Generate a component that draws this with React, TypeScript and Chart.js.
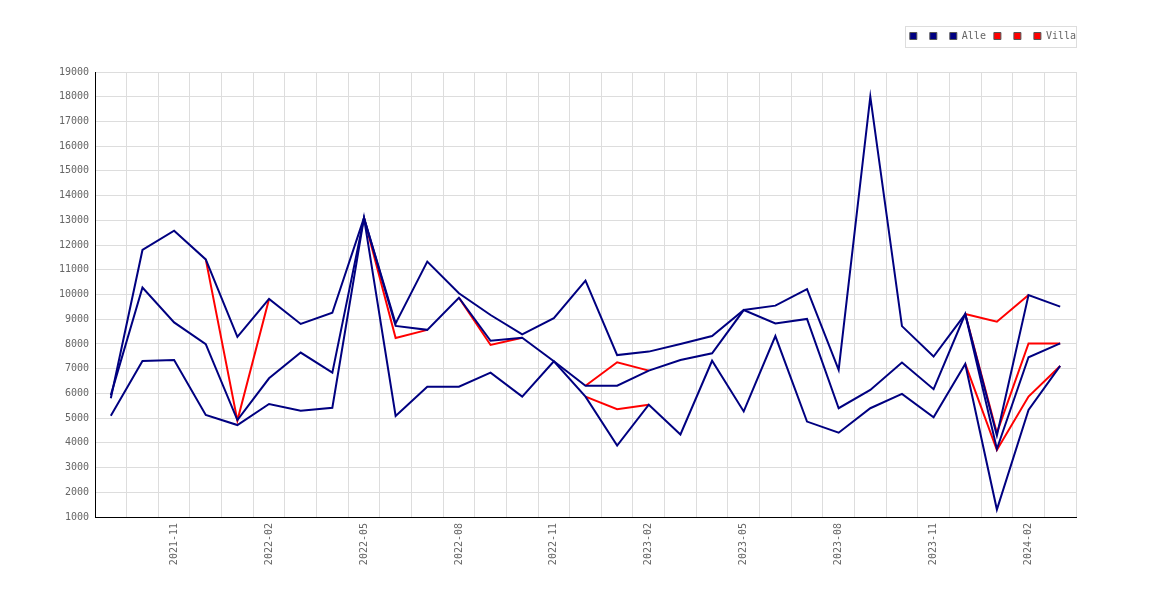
import { useEffect, useRef } from "react";
import { Chart, registerables } from "chart.js";

Chart.register(...registerables);

const months = [
  "2021-09", "2021-10", "2021-11", "2021-12", "2022-01", "2022-02", "2022-03", "2022-04",
  "2022-05", "2022-06", "2022-07", "2022-08", "2022-09", "2022-10", "2022-11", "2022-12",
  "2023-01", "2023-02", "2023-03", "2023-04", "2023-05", "2023-06", "2023-07", "2023-08",
  "2023-09", "2023-10", "2023-11", "2023-12", "2024-01", "2024-02", "2024-03",
];

const alleHigh = [
  5800, 11800, 12580, 11420, 8290, 9820, 8810, 9260, 13100, 8830, 11330, 10050, 9170, 8390, 9040, 10560,
  7550, 7690, 8000, 8320, 9370, 9550, 10220, 6950, 18000, 8720, 7490, 9210, 4300, 9980, 9510,
];
const alleMid = [
  5930, 10280, 8870, 7990, 4920, 6610, 7650, 6840, 13100, 8730, 8570, 9870, 8130, 8250, 7300, 6310,
  6310, 6920, 7350, 7620, 9370, 8830, 9010, 5400, 6140, 7250, 6170, 9210, 3750, 7460, 8020,
];
const alleLow = [
  5100, 7310, 7350, 5130, 4720, 5570, 5300, 5420, 13100, 5090, 6270, 6270, 6840, 5870, 7300, 5870,
  3890, 5540, 4340, 7320, 5270, 8320, 4860, 4410, 5400, 5980, 5030, 7190, 1300, 5330, 7110,
];

const villaHigh = [
  5800, 11800, 12580, 11420, 4900, 9820, 8810, 9260, 13100, 8830, 11330, 10050, 9170, 8390, 9040, 10560,
  7550, 7690, 8000, 8320, 9370, 9550, 10220, 6950, 18000, 8720, 7490, 9210, 8900, 9980, 9510,
];
const villaMid = [
  5930, 10280, 8870, 7990, 4920, 6610, 7650, 6840, 13100, 8240, 8570, 9870, 7960, 8250, 7300, 6310,
  7260, 6920, 7350, 7620, 9370, 8830, 9010, 5400, 6140, 7250, 6170, 9210, 4400, 8020, 8020,
];
const villaLow = [
  5100, 7310, 7350, 5130, 4720, 5570, 5300, 5420, 13100, 5090, 6270, 6270, 6840, 5870, 7300, 5870,
  5360, 5540, 4340, 7320, 5270, 8320, 4860, 4410, 5400, 5980, 5030, 7190, 3710, 5870, 7110,
];

const yTicks = { min: 1000, max: 19000, step: 1000 };

const NAVY = "#000080";
const RED = "#ff0000";
const FONT = { family: "'DejaVu Sans Mono', monospace", size: 10 };

// extra space under the legend, and push it to the plot's right edge
const legendLayout = {
  id: "legendLayout",
  beforeInit(chart: any) {
    const legend = chart.legend;
    if (!legend) return;
    const fit = legend.fit;
    legend.fit = function () {
      fit.call(this);
      this.height += 21;
    };
  },
  afterLayout(chart: any) {
    if (chart.legend) chart.legend.right += 8;
  },
};

// light grey frame around the legend items
const legendFrame = {
  id: "legendFrame",
  afterDraw(chart: any) {
    const boxes = chart.legend?.legendHitBoxes;
    if (!boxes || !boxes.length) return;
    const left = Math.min(...boxes.map((b: any) => b.left));
    const right = Math.max(...boxes.map((b: any) => b.left + b.width));
    const top = Math.min(...boxes.map((b: any) => b.top));
    const bottom = Math.max(...boxes.map((b: any) => b.top + b.height));
    const ctx = chart.ctx;
    ctx.save();
    ctx.strokeStyle = "#dddddd";
    ctx.lineWidth = 1;
    ctx.strokeRect(
      Math.round(left - 5) + 0.5,
      Math.round(top - 5) + 0.5,
      Math.round(right - left + 5),
      Math.round(bottom - top + 11)
    );
    ctx.restore();
  },
};

const PriceChart = () => {
  const chartRef = useRef<HTMLCanvasElement | null>(null);

  useEffect(() => {
    if (!chartRef.current) return;
    const ctx = chartRef.current.getContext("2d");
    if (!ctx) return;

    // red lines are hidden where they run under the matching navy line
    const line = (label: string, data: number[], color: string, under?: number[]) => ({
      label,
      data,
      borderColor: color,
      backgroundColor: color,
      borderWidth: 2,
      pointRadius: 0,
      pointHoverRadius: 0,
      tension: 0,
      fill: false,
      segment: under
        ? {
            borderColor: (c: any) =>
              data[c.p0DataIndex] === under[c.p0DataIndex] && data[c.p1DataIndex] === under[c.p1DataIndex]
                ? "rgba(0,0,0,0)"
                : color,
          }
        : undefined,
    });

    const myChart = new Chart(ctx, {
      type: "line",
      data: {
        labels: months,
        datasets: [
          line("", alleHigh, NAVY),
          line("", alleMid, NAVY),
          line("Alle", alleLow, NAVY),
          line("", villaHigh, RED, alleHigh),
          line("", villaMid, RED, alleMid),
          line("Villa", villaLow, RED, alleLow),
        ],
      },
      options: {
        animation: false,
        responsive: true,
        maintainAspectRatio: false,
        layout: { padding: { left: 0, right: 94, top: 23, bottom: 0 } },
        plugins: {
          tooltip: { enabled: false },
          legend: {
            position: "top",
            align: "end",
            labels: {
              boxWidth: 7,
              boxHeight: 7,
              padding: 8,
              color: "#666",
              font: FONT,
              generateLabels: (chart: any) =>
                chart.data.datasets.map((ds: any, i: number) => ({
                  text: ds.label,
                  fillStyle: ds.backgroundColor,
                  strokeStyle: "#555",
                  lineWidth: 1,
                  fontColor: "#666",
                  hidden: false,
                  datasetIndex: i,
                })),
            },
          },
        },
        scales: {
          x: {
            offset: true,
            afterFit: (scale: any) => {
              scale.height = 83;
            },
            grid: { color: "#dddddd", offset: true, drawTicks: false },
            border: { color: "#000", width: 1 },
            ticks: {
              autoSkip: false,
              maxRotation: 90,
              minRotation: 90,
              padding: 6,
              color: "#666",
              font: FONT,
              callback: (_v: any, i: number) => (i % 3 === 2 ? months[i] : ""),
            },
          },
          y: {
            min: yTicks.min,
            max: yTicks.max,
            afterFit: (scale: any) => {
              scale.width = 95;
            },
            grid: { color: "#dddddd", drawTicks: false },
            border: { color: "#000", width: 1 },
            ticks: {
              stepSize: yTicks.step,
              padding: 6,
              color: "#666",
              font: FONT,
              callback: (v: any) => String(v),
            },
          },
        },
      },
      plugins: [legendLayout, legendFrame],
    });

    return () => {
      myChart.destroy();
    };
  }, []);

  return (
    <div style={{ position: "fixed", left: 0, top: 0, width: 1170, height: 600, background: "#fff" }}>
      <canvas ref={chartRef}></canvas>
    </div>
  );
};

export default function App() {
  return <PriceChart />;
}
